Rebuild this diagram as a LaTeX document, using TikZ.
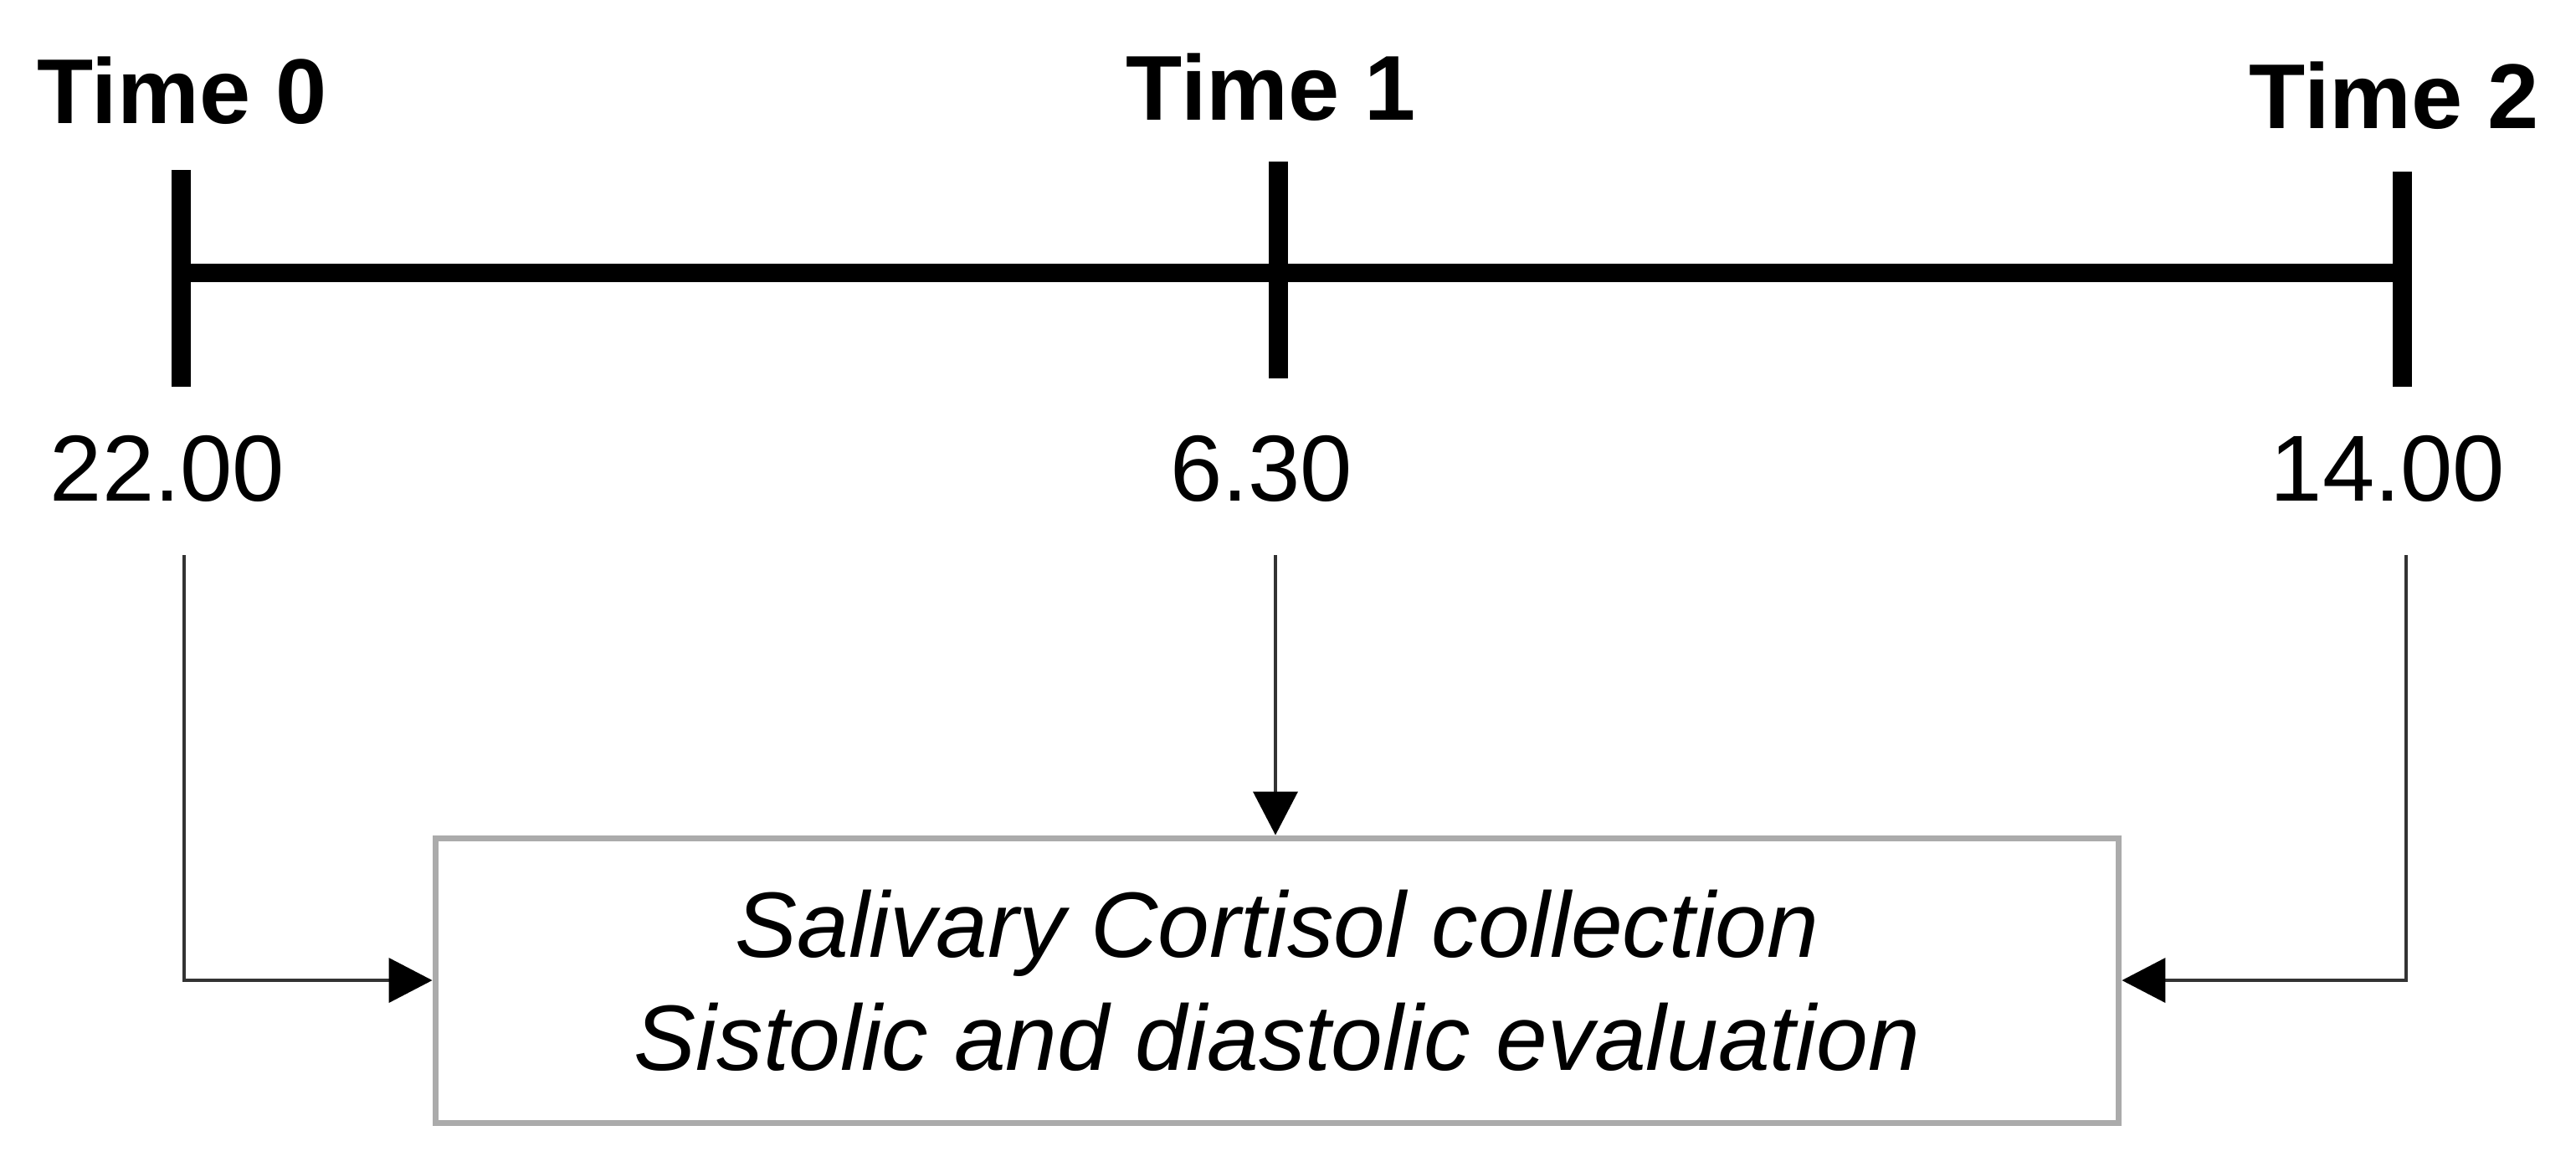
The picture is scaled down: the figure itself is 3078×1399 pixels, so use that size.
\documentclass[tikz,border=0pt]{standalone}
\usepackage{fontspec}
\setmainfont{Liberation Sans}
\usetikzlibrary{arrows.meta}
\begin{document}
\begin{tikzpicture}[x=0.1pt,y=-0.1pt,
  timelbl/.style={font=\fontsize{11}{13}\selectfont\bfseries, anchor=base, inner sep=0pt},
  numlbl/.style={font=\fontsize{11.2}{13}\selectfont, anchor=base, inner sep=0pt},
  tickline/.style={line width=2.3pt},
  axisline/.style={line width=2.2pt},
  conn/.style={line width=0.4pt, draw=black!80, -{Triangle[length=5.2pt,width=5.3pt,color=black]}},
  panel/.style={draw=black!33, line width=0.7pt, minimum width=201.2pt, minimum height=34pt, align=center, inner sep=0pt, font=\fontsize{11.1}{13.5}\selectfont\itshape}]
\useasboundingbox (0,0) rectangle (3078,1399);
% time labels
\node[timelbl] (T0) at (218,147) {Time 0};
\node[timelbl] (T1) at (1519,143) {Time 1};
\node[timelbl] (T2) at (2861,153) {Time 2};
% tick coordinates
\coordinate (k0t) at (216,203); \coordinate (k0b) at (216,462);
\coordinate (k1t) at (1527,193); \coordinate (k1b) at (1527,452);
\coordinate (k2t) at (2870,205); \coordinate (k2b) at (2870,462);
\coordinate (L0) at (216,326); \coordinate (L2) at (2870,326);
\draw[axisline] (L0) -- (L2);
\draw[tickline] (k0t) -- (k0b);
\draw[tickline] (k1t) -- (k1b);
\draw[tickline] (k2t) -- (k2b);
% numbers
\node[numlbl] (N0) at (200,598) {22.00};
\node[numlbl] (N1) at (1507,598) {6.30};
\node[numlbl] (N2) at (2853,598) {14.00};
% box
\node[panel] (box) at (1526,1171) {Salivary Cortisol collection\\Sistolic and diastolic evaluation};
% connectors
\coordinate (a0) at (220,663);
\coordinate (a1) at (1524,663);
\coordinate (a2) at (2875,663);
\draw[conn] (a0) |- (box.west);
\draw[conn] (a1) -- (a1 |- box.north);
\draw[conn] (a2) |- (box.east);
\end{tikzpicture}
\end{document}
